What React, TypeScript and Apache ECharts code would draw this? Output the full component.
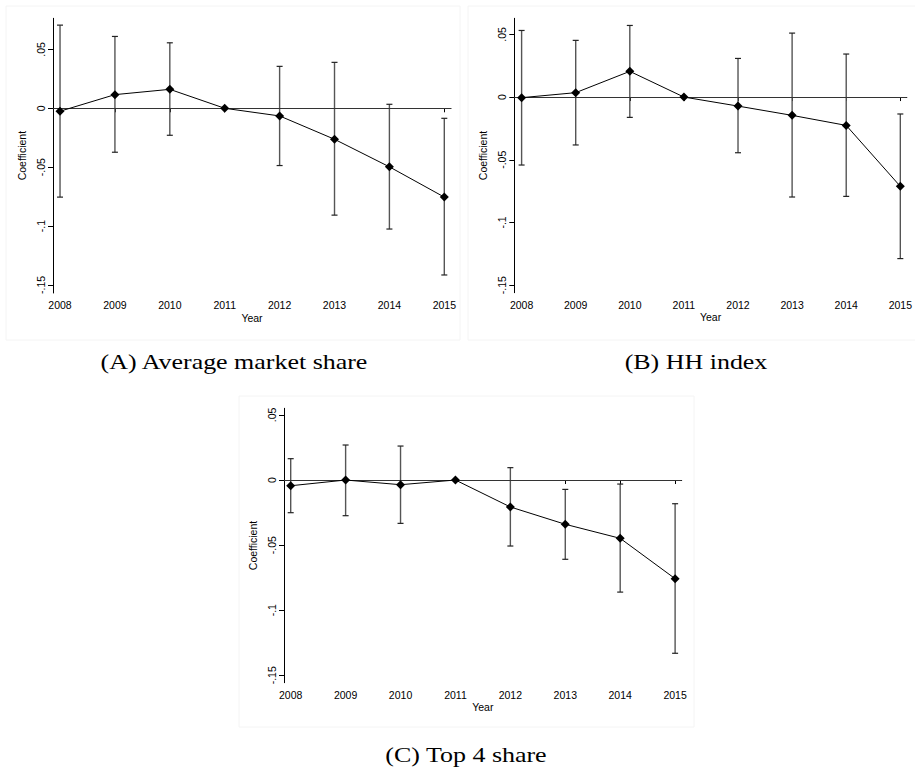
import React, { useEffect, useRef } from "react";
import * as echarts from "echarts";

const years = [2008, 2009, 2010, 2011, 2012, 2013, 2014, 2015];
const yTicks = [-0.15, -0.1, -0.05, 0, 0.05];
const yTickLabels = ["-.15", "-.1", "-.05", "0", ".05"];

const coefA = [-0.0025, 0.0116, 0.0161, 0, -0.0065, -0.0263, -0.0497, -0.0754];
const upperA = [0.0706, 0.061, 0.0556, null, 0.0356, 0.039, 0.0034, -0.0085];
const lowerA = [-0.0754, -0.0373, -0.0229, null, -0.0486, -0.0907, -0.1025, -0.1415];

const coefB = [-0.0005, 0.0035, 0.0205, 0, -0.0072, -0.0146, -0.0226, -0.0712];
const upperB = [0.0531, 0.0452, 0.0571, null, 0.0308, 0.051, 0.0343, -0.0135];
const lowerB = [-0.0542, -0.0382, -0.0162, null, -0.0444, -0.0797, -0.0792, -0.1288];

const coefC = [-0.0044, 0, -0.0036, 0, -0.0207, -0.034, -0.0448, -0.0758];
const upperC = [0.0164, 0.0269, 0.0261, null, 0.0095, -0.0072, -0.0031, -0.0182];
const lowerC = [-0.0251, -0.0274, -0.0333, null, -0.0507, -0.0609, -0.0861, -0.1331];

const captions = ["(A) Average market share", "(B) HH index", "(C) Top 4 share"];

const panels = [
  { coef: coefA, upper: upperA, lower: lowerA, grid: { left: 53, top: 18.3, width: 398, height: 274.7 }, ymin: -0.1568, ymax: 0.0764, xmin: 2007.872, xmax: 2015.122 },
  { coef: coefB, upper: upperB, lower: lowerB, grid: { left: 514.3, top: 18.3, width: 397.7, height: 274.4 }, ymin: -0.156, ymax: 0.0628, xmin: 2007.865, xmax: 2015.12 },
  { coef: coefC, upper: upperC, lower: lowerC, grid: { left: 284, top: 408.3, width: 397.7, height: 274.4 }, ymin: -0.1557, ymax: 0.0551, xmin: 2007.878, xmax: 2015.12 },
];

const captionPos = [
  { x: 234, y: 362 },
  { x: 696, y: 362 },
  { x: 466, y: 755 },
];

const frames = [
  { x: 6, y: 6, w: 454, h: 334 },
  { x: 468, y: 6, w: 460, h: 334 },
  { x: 239, y: 396, w: 455, h: 331 },
];

const FONT = "Liberation Sans, Arial, sans-serif";

export default function App() {
  const ref = useRef<HTMLDivElement>(null);
  useEffect(() => {
    if (!ref.current) return;
    const chart = echarts.init(ref.current, null, { renderer: "svg" });

    const grids: any[] = [];
    const xAxes: any[] = [];
    const yAxes: any[] = [];
    const series: any[] = [];

    panels.forEach((p, i) => {
      grids.push({ ...p.grid, containLabel: false });
      xAxes.push({
        type: "value",
        gridIndex: i,
        min: p.xmin,
        max: p.xmax,
        name: "Year",
        nameLocation: "middle",
        nameGap: 19,
        nameTextStyle: { fontFamily: FONT, fontSize: 10.5, color: "#000" },
        axisLine: { show: true, lineStyle: { color: "#000", width: 1 } },
        axisTick: { show: true, length: 4, lineStyle: { color: "#000" }, customValues: years },
        axisLabel: {
          show: true,
          customValues: years,
          formatter: (v: number) => String(Math.round(v)),
          fontFamily: FONT,
          fontSize: 10.5,
          color: "#000",
          margin: 6.5,
        },
        splitLine: { show: false },
      });
      yAxes.push({
        type: "value",
        gridIndex: i,
        min: p.ymin,
        max: p.ymax,
        name: "Coefficient",
        nameLocation: "middle",
        nameGap: 26,
        nameRotate: 90,
        nameTextStyle: { fontFamily: FONT, fontSize: 10.5, color: "#000" },
        axisLine: { show: true, lineStyle: { color: "#000", width: 1 } },
        axisTick: { show: true, length: 5, lineStyle: { color: "#000" }, customValues: yTicks },
        axisLabel: {
          show: true,
          customValues: yTicks,
          rotate: 90,
          formatter: (v: number) => {
            const idx = yTicks.findIndex((t) => Math.abs(t - v) < 1e-9);
            return idx >= 0 ? yTickLabels[idx] : "";
          },
          fontFamily: FONT,
          fontSize: 10.5,
          color: "#000",
          margin: 7,
        },
        splitLine: { show: false },
      });

      const ciData = years
        .map((y, k) => [y, p.lower[k], p.upper[k]])
        .filter((d) => d[1] !== null && d[2] !== null);

      series.push({
        type: "custom",
        xAxisIndex: i,
        yAxisIndex: i,
        data: ciData,
        encode: { x: 0, y: [1, 2] },
        renderItem: (params: any, api: any) => {
          const x = api.value(0);
          const lo = api.value(1);
          const hi = api.value(2);
          const t = api.coord([x, hi]);
          const b = api.coord([x, lo]);
          const cw = 3;
          return {
            type: "group",
            children: [
              { type: "line", shape: { x1: t[0], y1: t[1], x2: b[0], y2: b[1] }, style: { stroke: "#555", lineWidth: 1.4 } },
              { type: "line", shape: { x1: t[0] - cw, y1: t[1], x2: t[0] + cw, y2: t[1] }, style: { stroke: "#222", lineWidth: 1.2 } },
              { type: "line", shape: { x1: b[0] - cw, y1: b[1], x2: b[0] + cw, y2: b[1] }, style: { stroke: "#222", lineWidth: 1.2 } },
            ],
          };
        },
        z: 2,
      });

      series.push({
        type: "line",
        xAxisIndex: i,
        yAxisIndex: i,
        data: years.map((y, k) => [y, p.coef[k]]),
        symbol: "diamond",
        symbolSize: 9,
        showSymbol: true,
        itemStyle: { color: "#000" },
        lineStyle: { color: "#000", width: 1 },
        z: 4,
        markLine: {
          silent: true,
          symbol: ["none", "none"],
          label: { show: false },
          lineStyle: { color: "#333", width: 1, type: "solid" },
          data: [{ yAxis: 0 }],
          z: 3,
        },
      });
    });

    const graphic: any[] = [];
    frames.forEach((f) => {
      graphic.push({
        type: "rect",
        shape: { x: f.x, y: f.y, width: f.w, height: f.h },
        style: { fill: "none", stroke: "#f4f4f4", lineWidth: 1 },
        silent: true,
        z: -1,
      });
    });
    captions.forEach((c, i) => {
      graphic.push({
        type: "text",
        x: captionPos[i].x,
        y: captionPos[i].y,
        scaleX: 1.18,
        style: {
          text: c,
          fontFamily: "Liberation Serif, Times New Roman, serif",
          fontSize: 22,
          fill: "#000",
          textAlign: "center",
          textVerticalAlign: "middle",
        },
      });
    });

    chart.setOption({
      animation: false,
      backgroundColor: "#fff",
      grid: grids,
      xAxis: xAxes,
      yAxis: yAxes,
      series,
      graphic,
    });
    return () => chart.dispose();
  }, []);

  return (
    <div
      ref={ref}
      style={{ position: "absolute", left: 0, top: 0, width: 915, height: 767 }}
    />
  );
}
